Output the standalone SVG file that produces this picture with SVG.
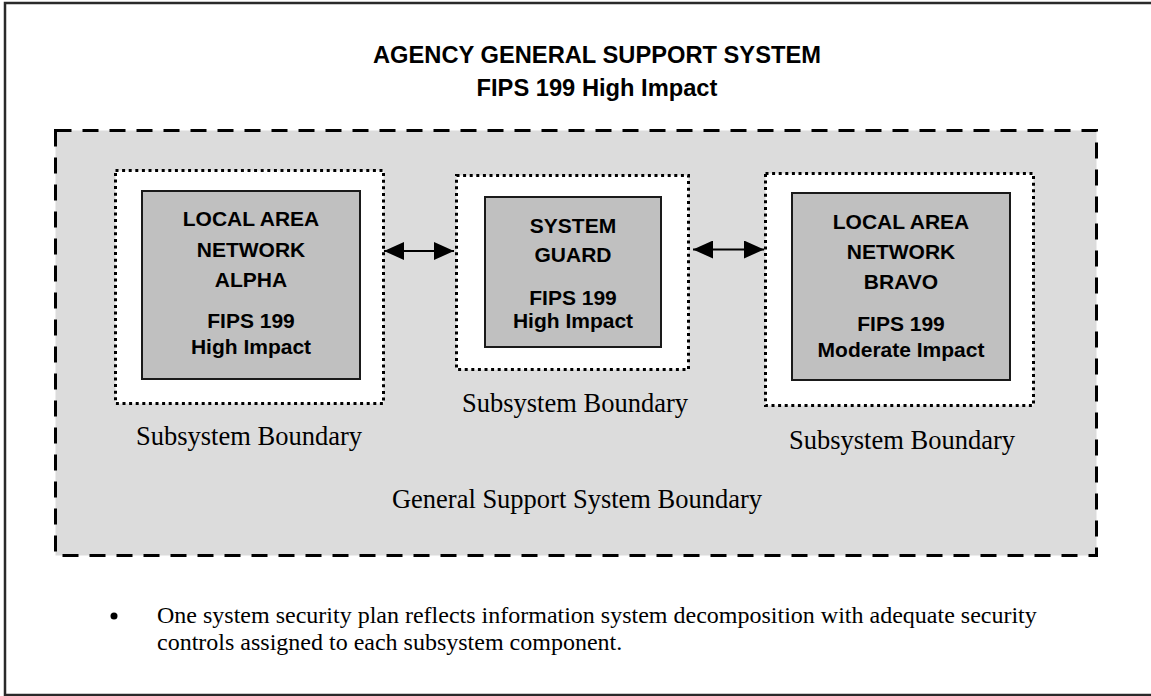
<svg xmlns="http://www.w3.org/2000/svg" width="1151" height="696" viewBox="0 0 1151 696">
<style>
.frame{fill:#ffffff;stroke:#2a2a2a;stroke-width:2.5}
.gss{fill:#dcdcdc;stroke:#000;stroke-width:3;stroke-dasharray:16 11}
.sub{fill:#ffffff;stroke:#000;stroke-width:3;stroke-dasharray:3 3.6}
.comp{fill:#c0c0c0;stroke:#1a1a1a;stroke-width:2}
.b{font-family:"Liberation Sans",Arial,sans-serif;font-weight:bold;font-size:21px;fill:#000;text-anchor:middle}
.h{font-family:"Liberation Sans",Arial,sans-serif;font-weight:bold;font-size:23.7px;fill:#000;text-anchor:middle}
.t{font-family:"Liberation Serif","Times New Roman",serif;font-size:26.5px;fill:#000;text-anchor:middle}
.p{font-family:"Liberation Serif","Times New Roman",serif;font-size:24px;fill:#000}
.conn{stroke:#000;stroke-width:2;fill:none;marker-start:url(#ah);marker-end:url(#ah)}
</style>
<defs>
<marker id="ah" viewBox="0 0 20 18" refX="20" refY="9" markerWidth="20" markerHeight="18" markerUnits="userSpaceOnUse" orient="auto-start-reverse">
<path d="M0,0 L20,9 L0,18 Z" fill="#000"/>
</marker>
</defs>
<rect class="frame" x="5" y="3" width="1160" height="692"/>
<g id="title">
<text class="h" x="597" y="63">AGENCY GENERAL SUPPORT SYSTEM</text>
<text class="h" x="597" y="96">FIPS 199 High Impact</text>
</g>
<g id="gss-boundary">
<rect class="gss" x="55.5" y="130.5" width="1041" height="425"/>
<text class="t" x="577" y="508">General Support System Boundary</text>
</g>
<g id="lan-alpha">
<rect class="sub" x="115.5" y="170.5" width="268" height="233"/>
<rect class="comp" x="142" y="191" width="218" height="188"/>
<text class="b" x="251" y="226">LOCAL AREA</text>
<text class="b" x="251" y="257">NETWORK</text>
<text class="b" x="251" y="287">ALPHA</text>
<text class="b" x="251" y="328">FIPS 199</text>
<text class="b" x="251" y="354">High Impact</text>
<text class="t" x="249" y="445">Subsystem Boundary</text>
</g>
<g id="system-guard">
<rect class="sub" x="456.5" y="175.5" width="232" height="194"/>
<rect class="comp" x="485" y="197" width="176" height="150"/>
<text class="b" x="573" y="233">SYSTEM</text>
<text class="b" x="573" y="262">GUARD</text>
<text class="b" x="573" y="305">FIPS 199</text>
<text class="b" x="573" y="328">High Impact</text>
<text class="t" x="575" y="412">Subsystem Boundary</text>
</g>
<g id="lan-bravo">
<rect class="sub" x="765.5" y="173.5" width="268" height="232"/>
<rect class="comp" x="792" y="193" width="218" height="187"/>
<text class="b" x="901" y="229">LOCAL AREA</text>
<text class="b" x="901" y="259">NETWORK</text>
<text class="b" x="901" y="289">BRAVO</text>
<text class="b" x="901" y="331">FIPS 199</text>
<text class="b" x="901" y="357">Moderate Impact</text>
<text class="t" x="902" y="449">Subsystem Boundary</text>
</g>
<g id="connectors">
<line class="conn" x1="384" y1="251" x2="454" y2="251"/>
<line class="conn" x1="693" y1="249.5" x2="764" y2="249.5"/>
</g>
<g id="note">
<circle cx="114" cy="616" r="3.5" fill="#000"/>
<text class="p" x="157" y="623">One system security plan reflects information system decomposition with adequate security</text>
<text class="p" x="157" y="650">controls assigned to each subsystem component.</text>
</g>
</svg>
